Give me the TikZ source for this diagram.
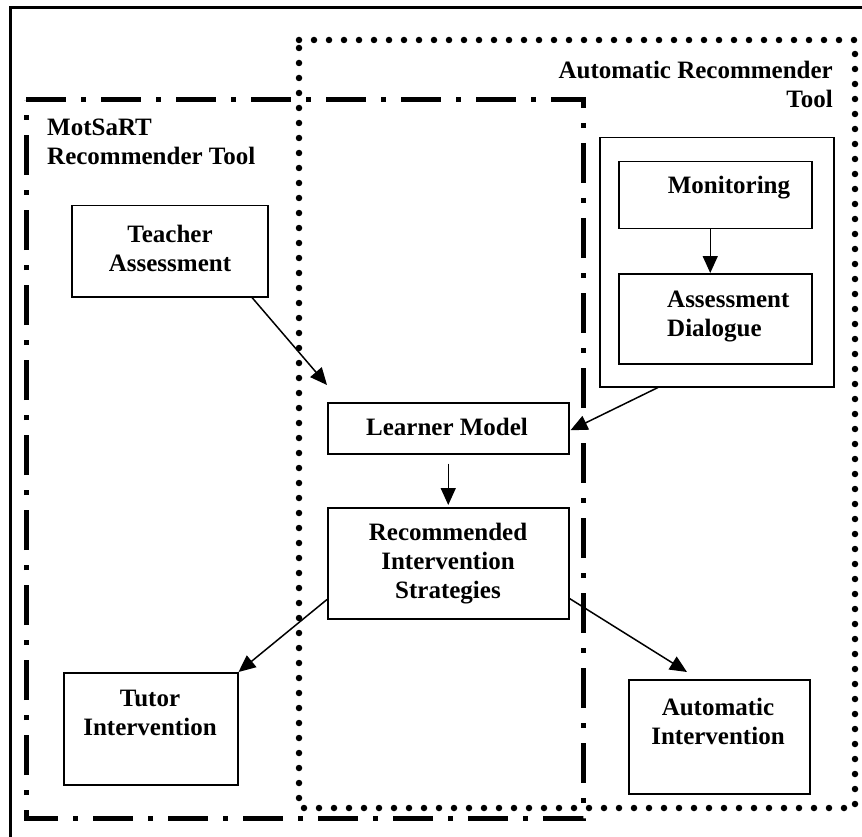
\documentclass[tikz,border=0pt]{standalone}
\usepackage{fontspec}
\setmainfont{Liberation Serif}
\usetikzlibrary{arrows.meta,calc}
\begin{document}
\begin{tikzpicture}[x=1pt,y=-1pt,
  box/.style={draw,line width=1.5pt,rectangle,inner sep=0pt,anchor=north west},
  txt/.style={font=\fontsize{25}{29}\selectfont\bfseries,inner sep=0pt,align=center},
  arr/.style={line width=1.5pt,-{Triangle[length=17pt,width=15pt]}},
  dotbox/.style={line width=6.5pt,line cap=round,dash pattern=on 0pt off 15pt},
  dashdotbox/.style={line width=5pt,dash pattern=on 40pt off 15pt on 5pt off 15pt}]
\useasboundingbox (0,0) rectangle (862,837);
\clip (0,0) rectangle (862,837);
\fill[white] (0,0) rectangle (862,837);
% outer frame
\draw[line width=3pt] (10,8) rectangle (875,850);
% dotted region (Automatic Recommender Tool)
\draw[dotbox] (299,40) -- (855,40) -- (855,808) -- (299,808) -- cycle;
% dash-dot region (MotSaRT Recommender Tool)
\draw[dashdotbox] (26,100) -- (583,100) -- (583,818) -- (26,818) -- cycle;
% boxes
\node[box,minimum width=196pt,minimum height=91pt] (teacher) at (71,205) {};
\node[box,minimum width=241pt,minimum height=51pt] (learner) at (327,402) {};
\node[box,minimum width=241pt,minimum height=111pt] (recommend) at (327,507) {};
\node[box,minimum width=174pt,minimum height=112pt] (tutor) at (63,672) {};
\node[box,minimum width=181pt,minimum height=114pt] (autoint) at (628,679) {};
\node[box,minimum width=234pt,minimum height=249pt] (autobox) at (599,137) {};
\node[box,minimum width=193pt,minimum height=67pt] (monitor) at (618,161) {};
\node[box,minimum width=193pt,minimum height=90pt] (dialogue) at (618,273) {};
% texts
\node[txt,anchor=east,align=right] (lblauto) at (833,84) {Automatic Recommender\\Tool};
\node[txt,anchor=west,align=left] (lblmot) at (47,142) {MotSaRT\\Recommender Tool};
\node[txt] (tteacher) at (170,248) {Teacher\\Assessment};
\node[txt] (tmonitor) at (729,188) {Monitoring};
\node[txt,anchor=west,align=left] (tdialogue) at (667,317) {Assessment\\Dialogue};
\node[txt] (tlearner) at (447,427) {Learner Model};
\node[txt] (trecommend) at (448,564) {Recommended\\Intervention\\Strategies};
\node[txt] (ttutor) at (150,713) {Tutor\\Intervention};
\node[txt] (tautoint) at (718,721) {Automatic\\Intervention};
% connectors
\coordinate (tlend) at ($(learner.north west)+(0,-17)$);
\coordinate (aiend) at ($(autoint.north west)+(59,-7)$);
\draw[arr] ($(teacher.south west)+(181,0)$) -- (tlend);
\draw[arr] ($(monitor.south)+(-5,0)$) -- ($(dialogue.north)+(-5,0)$);
\draw[arr] ($(autobox.south west)+(59,0)$) -- ($(learner.east)+(1,2)$);
\draw[arr] ($(learner.south)+(0,9)$) -- ($(recommend.north)+(0,-2)$);
\draw[arr] ($(recommend.south west)+(0,-20)$) -- (tutor.north east);
\draw[arr] ($(recommend.south east)+(0,-21)$) -- (aiend);
\end{tikzpicture}
\end{document}
